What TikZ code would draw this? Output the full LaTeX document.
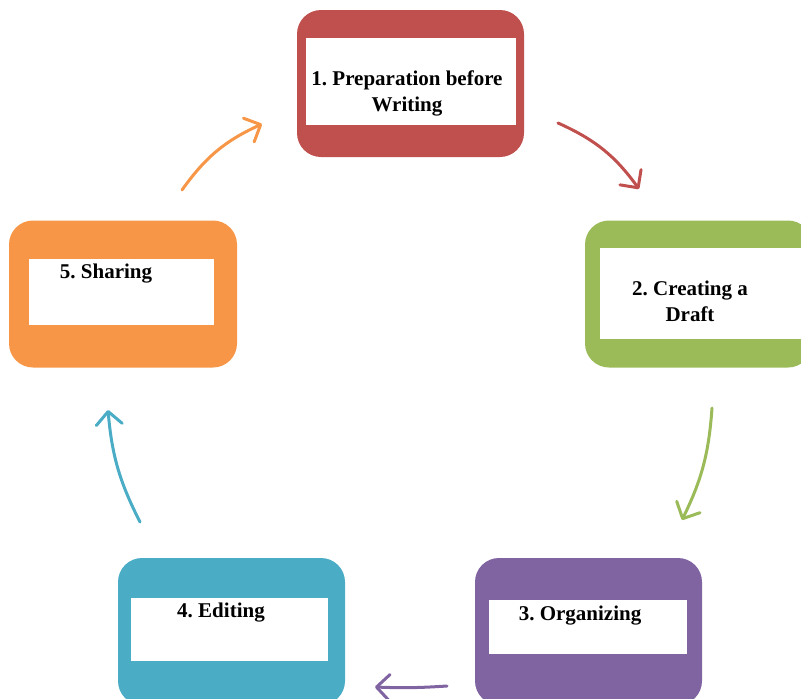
\documentclass[tikz,border=0pt]{standalone}
\usepackage{fontspec}
\setmainfont{Liberation Serif}
\usetikzlibrary{arrows.meta}
\frenchspacing

\definecolor{prepred}{HTML}{C0504D}
\definecolor{draftgreen}{HTML}{9BBB59}
\definecolor{orgpurple}{HTML}{8064A2}
\definecolor{editteal}{HTML}{4BACC6}
\definecolor{shareorange}{HTML}{F79646}

\tikzset{
  stage/.style={rounded corners=24pt, minimum width=227pt, minimum height=147pt, inner sep=0pt},
  panel/.style={fill=white, inner sep=0pt},
  steptext/.style={font=\fontsize{21}{26}\selectfont\bfseries, align=center, inner sep=0pt},
  cyclearrow/.style={line width=3pt, line cap=round,
    -{Straight Barb[length=13pt,width=26pt,line cap=round,line join=round]}}
}

\begin{document}
\begin{tikzpicture}[x=1pt,y=-1pt]
  \useasboundingbox (0,0) rectangle (801,699);
  \clip (0,0) rectangle (801,699);

  % the five stages
  \node[stage, fill=prepred] (prep) at (410.5,83.5) {};
  \node[panel, minimum width=210pt, minimum height=87pt] (prep-in) at (411,81.5) {};
  \node[steptext] (prep-txt) at (407,93) {1. Preparation before\\Writing};

  \node[stage, fill=draftgreen] (draft) at (698.5,294) {};
  \node[panel, minimum width=205pt, minimum height=91pt] (draft-in) at (702.5,293.5) {};
  \node[steptext] (draft-txt) at (690,301) {2. Creating a\\Draft};

  \node[stage, fill=orgpurple] (organize) at (588.5,631.5) {};
  \node[panel, minimum width=198pt, minimum height=54pt] (organize-in) at (588,627) {};
  \node[steptext, anchor=base] (organize-txt) at (580,620) {3. Organizing};

  \node[stage, fill=editteal] (edit) at (231.5,631.5) {};
  \node[panel, minimum width=197pt, minimum height=63pt] (edit-in) at (229.5,629.5) {};
  \node[steptext, anchor=base] (edit-txt) at (221,617) {4. Editing};

  \node[stage, fill=shareorange, minimum width=228pt] (share) at (123,294) {};
  \node[panel, minimum width=185pt, minimum height=66pt] (share-in) at (121.5,292) {};
  \node[steptext, anchor=base] (share-txt) at (106,278) {5. Sharing};

  % arrows round the cycle
  \coordinate (prep-out) at (558,123);
  \coordinate (draft-in-end) at (639,189);
  \coordinate (draft-out) at (712,408);
  \coordinate (organize-in-end) at (682,520);
  \coordinate (organize-out) at (447,686);
  \coordinate (edit-in-end) at (375,687);
  \coordinate (edit-out) at (140,522);
  \coordinate (share-in-end) at (108,410);
  \coordinate (share-out) at (182,190);
  \coordinate (prep-in-end) at (262,124);

  \draw[cyclearrow, prepred] (prep-out) to[bend left=15] (draft-in-end);
  \draw[cyclearrow, draftgreen] (draft-out) to[bend left=11] (organize-in-end);
  \draw[cyclearrow, orgpurple] (organize-out) to[bend left=3] (edit-in-end);
  \draw[cyclearrow, editteal] (edit-out) to[bend left=11] (share-in-end);
  \draw[cyclearrow, shareorange] (share-out) to[bend left=15] (prep-in-end);
\end{tikzpicture}
\end{document}
